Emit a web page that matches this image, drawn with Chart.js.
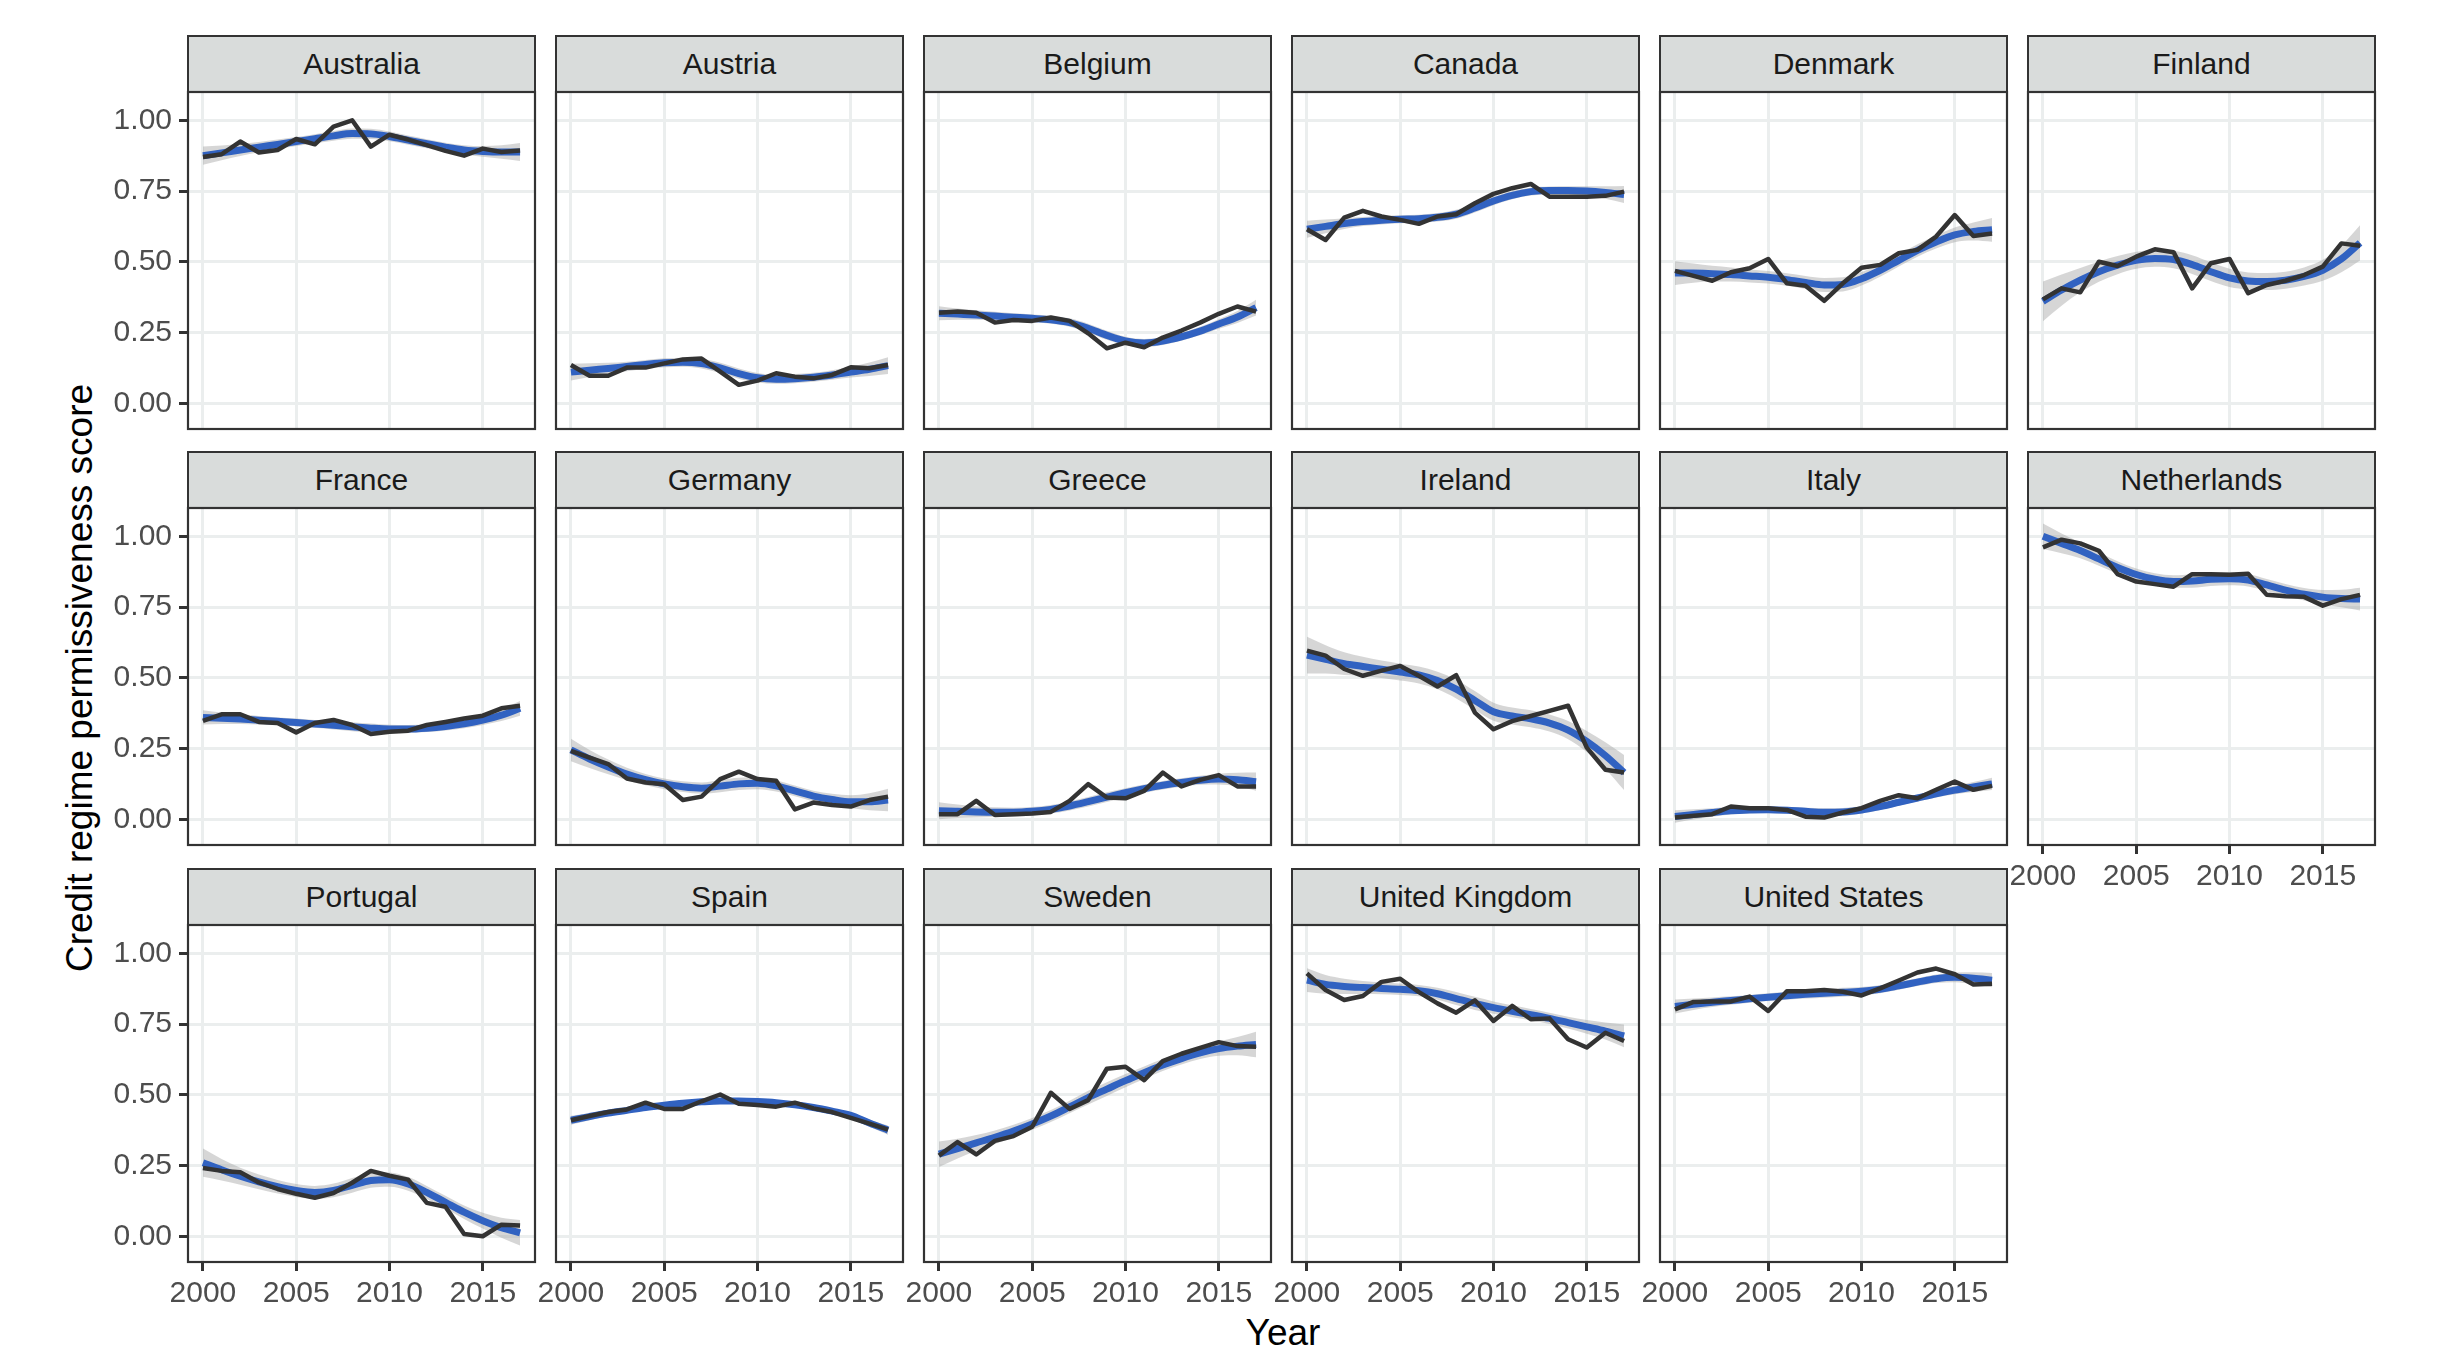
<!DOCTYPE html>
<html>
<head>
<meta charset="utf-8">
<script src="https://cdn.jsdelivr.net/npm/chart.js@4.4.0/dist/chart.umd.min.js"></script>
<style>
  html, body { margin: 0; padding: 0; background: #ffffff; }
  body { width: 2448px; height: 1350px; position: relative; overflow: hidden; font-family: "Liberation Sans", Arial, sans-serif; }
  canvas { position: absolute; }
  .strip { position: absolute; box-sizing: border-box; background: #D9DCDB; border: 2.2px solid #333333;
           display: flex; align-items: center; justify-content: center; font-size: 30px; color: #1A1A1A; white-space: nowrap; }
  .ytitle { position: absolute; left: 79px; top: 678px; transform: translate(-50%, -50%) rotate(-90deg);
            font-size: 37px; color: #000; white-space: nowrap; line-height: 1; }
  .xtitle { position: absolute; left: 1283px; top: 1314px; transform: translateX(-50%);
            font-size: 37px; color: #000; white-space: nowrap; line-height: 1; }
</style>
</head>
<body>
<div class="ytitle">Credit regime permissiveness score</div>
<div class="xtitle">Year</div>
<script>
// ---------------- DATA ----------------
const years = [2000,2001,2002,2003,2004,2005,2006,2007,2008,2009,2010,2011,2012,2013,2014,2015,2016,2017];
const xTickYears = [2000, 2005, 2010, 2015];
const yTickValues = [0, 0.25, 0.5, 0.75, 1];
const countries = ["Australia","Austria","Belgium","Canada","Denmark","Finland","France","Germany","Greece","Ireland","Italy","Netherlands","Portugal","Spain","Sweden","United Kingdom","United States"];

const scoreAustralia = [.870,.880,.925,.886,.895,.934,.915,.978,1.000,.907,.949,.932,.912,.892,.875,.900,.888,.893];
const trendAustralia = [.875,.885,.895,.905,.915,.925,.935,.945,.953,.952,.943,.930,.917,.905,.895,.890,.888,.888];
const bandAustralia  = [.032,.026,.021,.018,.017,.016,.016,.017,.018,.018,.017,.016,.016,.016,.017,.019,.024,.032];

const scoreAustria = [.135,.097,.097,.126,.126,.141,.155,.158,.112,.065,.080,.106,.094,.088,.100,.127,.124,.135];
const trendAustria = [.110,.117,.123,.130,.137,.143,.145,.140,.125,.105,.090,.085,.087,.092,.100,.110,.120,.133];
const bandAustria  = [.030,.024,.020,.017,.016,.016,.016,.017,.018,.018,.017,.016,.016,.016,.017,.019,.024,.030];

const scoreBelgium = [.320,.324,.320,.285,.294,.291,.303,.291,.247,.194,.214,.198,.232,.257,.285,.316,.342,.324];
const trendBelgium = [.318,.315,.312,.308,.304,.300,.295,.285,.265,.240,.220,.213,.220,.235,.255,.280,.305,.338];
const bandBelgium  = [.025,.020,.017,.015,.014,.014,.014,.015,.016,.016,.015,.014,.014,.014,.015,.017,.021,.028];

const scoreCanada = [.615,.577,.656,.680,.660,.648,.634,.660,.668,.707,.740,.760,.775,.730,.730,.730,.733,.748];
const trendCanada = [.615,.625,.635,.642,.647,.650,.652,.657,.668,.690,.715,.735,.748,.752,.752,.750,.745,.738];
const bandCanada  = [.030,.024,.019,.016,.015,.014,.014,.015,.016,.016,.015,.014,.014,.014,.015,.017,.022,.030];

const scoreDenmark = [.468,.450,.433,.463,.477,.510,.424,.415,.362,.424,.479,.489,.530,.542,.589,.665,.591,.600];
const trendDenmark = [.460,.460,.458,.455,.450,.445,.437,.427,.418,.420,.440,.470,.505,.540,.570,.595,.607,.613];
const bandDenmark  = [.042,.034,.028,.025,.023,.022,.022,.023,.025,.025,.024,.023,.022,.022,.023,.026,.032,.042];

const scoreFinland = [.367,.406,.392,.500,.485,.518,.544,.534,.406,.495,.510,.389,.418,.433,.453,.483,.565,.557];
const trendFinland = [.360,.400,.435,.465,.488,.505,.512,.508,.490,.465,.443,.432,.430,.435,.448,.470,.510,.567];
const bandFinland  = [.070,.055,.043,.036,.032,.030,.030,.031,.033,.033,.032,.030,.030,.030,.032,.037,.047,.062];

const scoreFrance = [.348,.371,.371,.344,.340,.307,.340,.351,.333,.301,.309,.313,.333,.344,.356,.366,.392,.401];
const trendFrance = [.360,.357,.354,.350,.346,.342,.337,.332,.327,.322,.319,.319,.322,.328,.337,.350,.368,.392];
const bandFrance  = [.025,.020,.017,.015,.014,.014,.014,.015,.016,.016,.015,.014,.014,.014,.015,.017,.021,.026];

const scoreGermany = [.242,.218,.195,.144,.130,.124,.068,.080,.142,.168,.142,.136,.035,.059,.050,.045,.068,.080];
const trendGermany = [.245,.213,.185,.160,.140,.125,.115,.110,.117,.125,.127,.118,.100,.082,.070,.062,.062,.068];
const bandGermany  = [.040,.032,.026,.022,.020,.019,.019,.020,.022,.022,.021,.020,.019,.019,.020,.023,.030,.040];

const scoreGreece = [.018,.018,.065,.015,.018,.020,.026,.065,.124,.077,.074,.100,.165,.116,.139,.156,.116,.116];
const trendGreece = [.030,.028,.026,.025,.025,.028,.035,.047,.062,.078,.094,.108,.120,.130,.138,.142,.140,.133];
const bandGreece  = [.030,.024,.020,.017,.016,.015,.015,.016,.017,.017,.016,.015,.015,.015,.016,.019,.024,.032];

const scoreIreland = [.596,.578,.531,.507,.525,.542,.507,.469,.509,.377,.318,.347,.365,.383,.401,.253,.175,.165];
const trendIreland = [.580,.565,.550,.540,.530,.520,.510,.490,.460,.420,.380,.365,.355,.340,.315,.275,.225,.165];
const bandIreland  = [.065,.050,.040,.034,.031,.030,.030,.031,.033,.033,.032,.030,.030,.030,.032,.037,.047,.062];

const scoreItaly = [.006,.012,.018,.045,.039,.039,.033,.009,.006,.024,.039,.065,.085,.074,.104,.133,.104,.118];
const trendItaly = [.010,.017,.024,.030,.033,.034,.032,.028,.025,.026,.033,.045,.060,.075,.090,.103,.114,.125];
const bandItaly  = [.022,.018,.015,.013,.012,.012,.012,.013,.014,.014,.013,.012,.012,.012,.013,.015,.018,.022];

const scoreNetherlands = [.961,.988,.975,.949,.866,.840,.831,.822,.866,.866,.864,.868,.793,.788,.786,.755,.778,.793];
const trendNetherlands = [1.000,.975,.950,.920,.890,.865,.848,.840,.842,.848,.850,.845,.828,.810,.795,.785,.780,.778];
const bandNetherlands  = [.045,.035,.028,.024,.022,.021,.021,.022,.024,.024,.023,.022,.021,.021,.022,.025,.031,.040];

const scorePortugal = [.241,.231,.226,.190,.167,.150,.136,.153,.189,.231,.214,.200,.118,.104,.008,.000,.041,.038];
const trendPortugal = [.260,.235,.212,.192,.175,.162,.155,.162,.180,.197,.200,.185,.155,.120,.085,.055,.030,.012];
const bandPortugal  = [.050,.038,.030,.026,.024,.023,.023,.024,.026,.026,.025,.024,.023,.023,.024,.028,.035,.045];

const scoreSpain = [.410,.425,.439,.448,.472,.450,.450,.477,.501,.468,.464,.458,.472,.452,.439,.418,.398,.377];
const trendSpain = [.410,.423,.435,.445,.455,.463,.470,.475,.478,.478,.476,.472,.465,.455,.442,.427,.400,.375];
const bandSpain  = [.016,.013,.011,.010,.009,.009,.009,.010,.011,.011,.010,.009,.009,.009,.010,.011,.013,.016];

const scoreSweden = [.285,.333,.289,.337,.354,.387,.507,.450,.481,.592,.599,.552,.619,.645,.666,.686,.672,.670];
const trendSweden = [.290,.310,.330,.350,.372,.397,.425,.457,.490,.520,.550,.578,.605,.628,.648,.663,.672,.678];
const bandSweden  = [.045,.035,.028,.024,.022,.021,.021,.022,.024,.024,.023,.022,.021,.021,.022,.025,.032,.045];

const scoreUK = [.929,.870,.835,.849,.899,.910,.863,.823,.790,.834,.761,.814,.767,.770,.696,.667,.719,.690];
const trendUK = [.905,.890,.883,.879,.876,.873,.868,.857,.840,.823,.808,.795,.783,.770,.755,.740,.725,.708];
const bandUK  = [.042,.033,.027,.023,.021,.020,.020,.021,.023,.023,.022,.021,.020,.020,.021,.024,.030,.040];

const scoreUS = [.802,.828,.830,.830,.847,.796,.866,.866,.870,.864,.851,.876,.904,.932,.946,.926,.890,.892];
const trendUS = [.812,.820,.827,.833,.839,.845,.850,.855,.859,.862,.866,.873,.885,.898,.910,.915,.912,.905];
const bandUS  = [.025,.020,.017,.015,.014,.014,.014,.015,.016,.016,.015,.014,.014,.014,.015,.017,.021,.025];

const scoreList = [scoreAustralia, scoreAustria, scoreBelgium, scoreCanada, scoreDenmark, scoreFinland, scoreFrance, scoreGermany, scoreGreece, scoreIreland, scoreItaly, scoreNetherlands, scorePortugal, scoreSpain, scoreSweden, scoreUK, scoreUS];
const trendList = [trendAustralia, trendAustria, trendBelgium, trendCanada, trendDenmark, trendFinland, trendFrance, trendGermany, trendGreece, trendIreland, trendItaly, trendNetherlands, trendPortugal, trendSpain, trendSweden, trendUK, trendUS];
const bandList  = [bandAustralia, bandAustria, bandBelgium, bandCanada, bandDenmark, bandFinland, bandFrance, bandGermany, bandGreece, bandIreland, bandItaly, bandNetherlands, bandPortugal, bandSpain, bandSweden, bandUK, bandUS];

// ---------------- LAYOUT / STYLE ----------------
const LEFT = 188, PITCH = 368, W = 347, H = 337, ROWTOP = [92, 508, 925], STRIP = 58;
const AXW = 100, AXH = 80, PADT = 4, PADR = 4;
const FONT = { family: '"Liberation Sans", Arial, sans-serif', size: 30 };

const boxPlugin = {
  id: 'panelBox',
  afterDraw(chart) {
    const { ctx, chartArea: a } = chart;
    ctx.save();
    ctx.strokeStyle = '#333333';
    ctx.lineWidth = 2.2;
    ctx.strokeRect(a.left, a.top, a.right - a.left, a.bottom - a.top);
    ctx.restore();
  }
};

function toPoints(vals) { return years.map((y, i) => ({ x: y, y: vals[i] })); }

countries.forEach((name, i) => {
  const col = i % 6, row = Math.floor(i / 6);
  const pl = LEFT + col * PITCH, pt = ROWTOP[row];
  const showY = col === 0;
  const showX = row === 2 || (row === 1 && col === 5);

  const strip = document.createElement('div');
  strip.className = 'strip';
  strip.style.left = (pl - 1.1) + 'px';
  strip.style.top = (pt - STRIP + 1.1) + 'px';
  strip.style.width = (W + 2.2) + 'px';
  strip.style.height = STRIP + 'px';
  strip.textContent = name;
  document.body.appendChild(strip);

  const cv = document.createElement('canvas');
  const cw = AXW + W + PADR, ch = PADT + H + AXH;
  cv.width = cw; cv.height = ch;
  cv.style.width = cw + 'px'; cv.style.height = ch + 'px';
  cv.style.left = (pl - AXW) + 'px';
  cv.style.top = (pt - PADT) + 'px';
  document.body.appendChild(cv);

  const score = scoreList[i], trend = trendList[i], band = bandList[i];
  const upper = trend.map((v, k) => v + band[k]);
  const lower = trend.map((v, k) => v - band[k]);

  new Chart(cv, {
    type: 'line',
    data: {
      datasets: [
        { data: toPoints(score), borderColor: '#333333', borderWidth: 4.5, pointRadius: 0, tension: 0, fill: false, borderJoinStyle: 'round' },
        { data: toPoints(trend), borderColor: '#3162C1', borderWidth: 7, pointRadius: 0, cubicInterpolationMode: 'monotone', fill: false },
        { data: toPoints(upper), borderColor: 'rgba(0,0,0,0)', borderWidth: 0, backgroundColor: 'rgba(153,153,153,0.4)', pointRadius: 0, cubicInterpolationMode: 'monotone', fill: '+1' },
        { data: toPoints(lower), borderColor: 'rgba(0,0,0,0)', borderWidth: 0, pointRadius: 0, cubicInterpolationMode: 'monotone', fill: false }
      ]
    },
    options: {
      responsive: false,
      animation: false,
      events: [],
      devicePixelRatio: 1,
      layout: { padding: { top: PADT, right: PADR, left: 0, bottom: 0 } },
      plugins: { legend: { display: false }, tooltip: { enabled: false }, title: { display: false } },
      scales: {
        x: {
          type: 'linear', min: 1999.2, max: 2017.8,
          afterBuildTicks: s => { s.ticks = xTickYears.map(v => ({ value: v })); },
          afterFit: s => { s.height = AXH; s.paddingLeft = 0; s.paddingRight = 0; s.paddingTop = 0; s.paddingBottom = 0; },
          border: { display: false },
          grid: { color: '#EBEEEE', lineWidth: 3, drawTicks: showX, tickLength: 9, tickColor: '#333333', tickWidth: 3 },
          ticks: { display: showX, color: '#4D4D4D', font: FONT, padding: 5, maxRotation: 0, autoSkip: false, callback: v => String(v) }
        },
        y: {
          type: 'linear', min: -0.091, max: 1.1,
          afterBuildTicks: s => { s.ticks = yTickValues.map(v => ({ value: v })); },
          afterFit: s => { s.width = AXW; s.paddingLeft = 0; s.paddingRight = 0; s.paddingTop = 0; s.paddingBottom = 0; },
          border: { display: false },
          grid: { color: '#EBEEEE', lineWidth: 3, drawTicks: showY, tickLength: 9, tickColor: '#333333', tickWidth: 3 },
          ticks: { display: showY, color: '#4D4D4D', font: FONT, padding: 7, autoSkip: false, callback: v => Number(v).toFixed(2) }
        }
      }
    },
    plugins: [boxPlugin]
  });
});
</script>
</body>
</html>
